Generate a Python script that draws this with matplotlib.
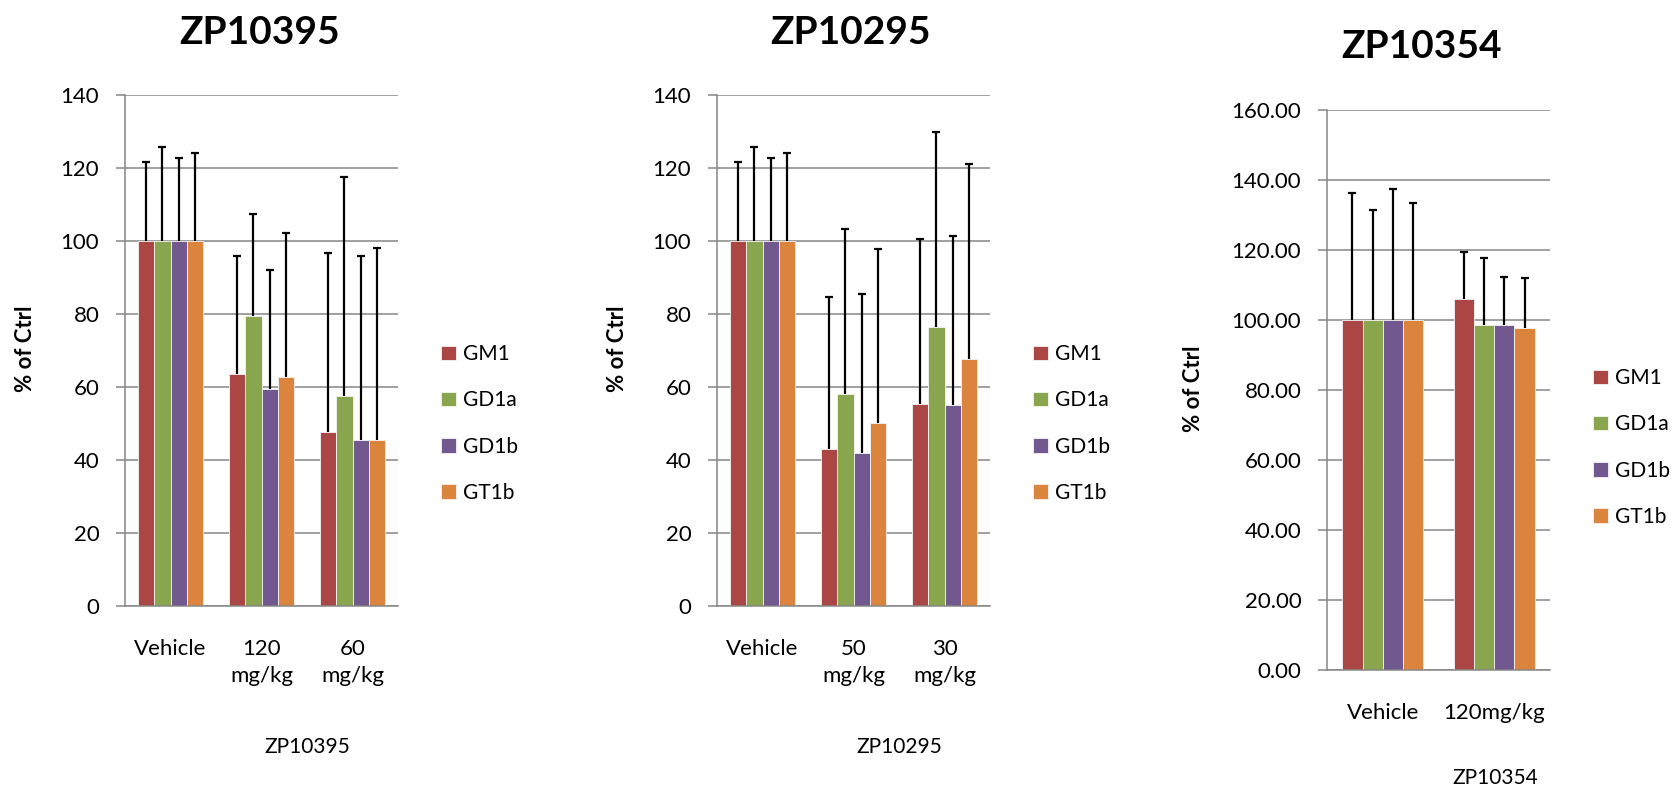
import numpy as np
import matplotlib
matplotlib.use("Agg")
import matplotlib.pyplot as plt
from matplotlib.ticker import FormatStrFormatter

plt.rcParams['font.family'] = ['Lato', 'DejaVu Sans']

series = ["GM1", "GD1a", "GD1b", "GT1b"]
colors = ["#AA4643", "#89A54E", "#71588F", "#DB843D"]

# ZP10395
cats_395 = ["Vehicle", "120\nmg/kg", "60\nmg/kg"]
gm1_395 = [100, 63.5, 47.7]
gd1a_395 = [100, 79.3, 57.5]
gd1b_395 = [100, 59.3, 45.5]
gt1b_395 = [100, 62.6, 45.5]
gm1_395_err = [21.6, 32.4, 49.1]
gd1a_395_err = [25.7, 28.2, 59.9]
gd1b_395_err = [22.8, 32.7, 50.3]
gt1b_395_err = [24.1, 39.6, 52.5]

# ZP10295
cats_295 = ["Vehicle", "50\nmg/kg", "30\nmg/kg"]
gm1_295 = [100, 43.0, 55.4]
gd1a_295 = [100, 58.1, 76.5]
gd1b_295 = [100, 41.8, 54.9]
gt1b_295 = [100, 50.0, 67.7]
gm1_295_err = [21.5, 41.6, 45.0]
gd1a_295_err = [25.7, 45.1, 53.4]
gd1b_295_err = [22.8, 43.6, 46.5]
gt1b_295_err = [24.1, 47.9, 53.5]

# ZP10354
cats_354 = ["Vehicle", "120mg/kg"]
gm1_354 = [100, 106.0]
gd1a_354 = [100, 98.6]
gd1b_354 = [100, 98.6]
gt1b_354 = [100, 97.7]
gm1_354_err = [36.2, 13.5]
gd1a_354_err = [31.5, 19.1]
gd1b_354_err = [37.5, 13.6]
gt1b_354_err = [33.4, 14.3]

W, H = 1678, 789
fig = plt.figure(figsize=(W / 100, H / 100), dpi=100)
GRAY = "#868686"


def px_axes(left, right, top, bottom):
    return fig.add_axes([left / W, 1 - bottom / H, (right - left) / W, (bottom - top) / H])


def draw_panel(ax, cats, vals, errs, ymax, fmt, legend_xy):
    x = np.arange(len(cats))
    bw = 0.181
    for i, (v, e) in enumerate(zip(vals, errs)):
        pos = x + (i - 1.5) * bw
        ax.bar(pos, v, width=bw, color=colors[i], edgecolor="#f4f4f4",
               linewidth=0.6, label=series[i], zorder=2)
        _, caps, _ = ax.errorbar(pos, v, yerr=[np.zeros(len(v)), e], fmt="none",
                                 ecolor="black", elinewidth=1.6, capsize=3.2,
                                 capthick=1.6, zorder=3)
        # only the upper cap, like the original
        caps[0].set_visible(False)
    ax.set_xlim(-0.5, len(cats) - 0.5)
    ax.set_ylim(0, ymax)
    ax.set_yticks(np.arange(0, ymax + 1, 20))
    ax.yaxis.set_major_formatter(FormatStrFormatter(fmt))
    ax.set_xticks(x)
    ax.set_xticklabels(cats, linespacing=1.45)
    ax.tick_params(axis="x", length=0, pad=24, labelsize=16)
    ax.tick_params(axis="y", length=6.5, width=1.1, color=GRAY, pad=12, labelsize=16)
    ax.grid(axis="y", color=GRAY, linewidth=1.1)
    ax.set_axisbelow(True)
    for s in ["top", "right"]:
        ax.spines[s].set_visible(False)
    for s in ["left", "bottom"]:
        ax.spines[s].set_color(GRAY)
        ax.spines[s].set_linewidth(1.1)
    ax.legend(loc="center left", bbox_to_anchor=(legend_xy[0] / W, 1 - legend_xy[1] / H),
              bbox_transform=fig.transFigure, frameon=False, fontsize=15,
              handlelength=0.7, handleheight=0.7, handletextpad=0.35,
              labelspacing=1.25, borderpad=0, borderaxespad=0)


ax1 = px_axes(125, 398, 95, 605.7)
draw_panel(ax1, cats_395,
           [gm1_395, gd1a_395, gd1b_395, gt1b_395],
           [gm1_395_err, gd1a_395_err, gd1b_395_err, gt1b_395_err],
           140, "%d", (441, 423.5))

ax2 = px_axes(717, 990, 95, 605.7)
draw_panel(ax2, cats_295,
           [gm1_295, gd1a_295, gd1b_295, gt1b_295],
           [gm1_295_err, gd1a_295_err, gd1b_295_err, gt1b_295_err],
           140, "%d", (1033, 423.5))

ax3 = px_axes(1327, 1550, 110, 670)
draw_panel(ax3, cats_354,
           [gm1_354, gd1a_354, gd1b_354, gt1b_354],
           [gm1_354_err, gd1a_354_err, gd1b_354_err, gt1b_354_err],
           160, "%.2f", (1593, 447.5))


def ftext(x, y, s, **kw):
    fig.text(x / W, 1 - y / H, s, ha="center", va="center", **kw)


# titles
ftext(260, 32, "ZP10395", fontsize=28, fontweight="bold")
ftext(850, 32, "ZP10295", fontsize=28, fontweight="bold")
ftext(1421, 47, "ZP10354", fontsize=28, fontweight="bold")

# y labels
ftext(25, 349, "% of Ctrl", fontsize=16, fontweight="bold", rotation=90)
ftext(617, 349, "% of Ctrl", fontsize=16, fontweight="bold", rotation=90)
ftext(1193, 389, "% of Ctrl", fontsize=16, fontweight="bold", rotation=90)

# x titles
ftext(307, 747, "ZP10395", fontsize=15)
ftext(899, 747, "ZP10295", fontsize=15)
ftext(1495, 778, "ZP10354", fontsize=15)

fig.savefig("out.png", dpi=100)
